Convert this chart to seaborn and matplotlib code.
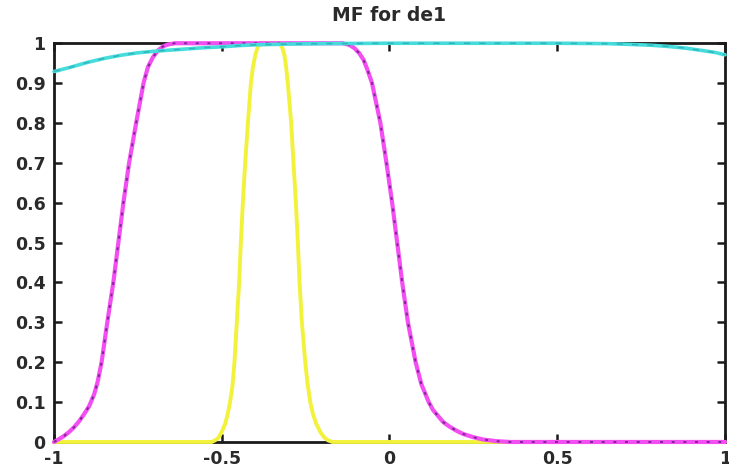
import matplotlib
matplotlib.use("Agg")
import matplotlib.pyplot as plt
import seaborn as sns
import pandas as pd

# Membership functions of input "de1", sampled along the universe [-1, 1]
mf_wide_x = [-1.00, -0.985, -0.97, -0.955, -0.94, -0.925, -0.91, -0.895, -0.88,
             -0.87, -0.858, -0.841, -0.823, -0.808, -0.793, -0.776, -0.755,
             -0.733, -0.72, -0.705, -0.69, -0.675, -0.66, -0.64, -0.40,
             -0.14, -0.12, -0.105, -0.09, -0.077, -0.065, -0.052, -0.027,
             -0.009, 0.008, 0.023, 0.038, 0.055, 0.078, 0.095, 0.117, 0.13,
             0.145, 0.16, 0.18, 0.20, 0.22, 0.25, 0.28, 0.32, 0.36, 1.00]
mf_wide_y = [0.00, 0.007, 0.015, 0.025, 0.037, 0.052, 0.07, 0.09, 0.12,
             0.15, 0.20, 0.30, 0.40, 0.50, 0.60, 0.70, 0.80,
             0.90, 0.94, 0.965, 0.982, 0.992, 0.997, 1.00, 1.00,
             1.00, 0.996, 0.988, 0.975, 0.958, 0.932, 0.90, 0.80,
             0.70, 0.60, 0.50, 0.40, 0.30, 0.20, 0.145, 0.10, 0.08,
             0.065, 0.05, 0.038, 0.028, 0.02, 0.012, 0.006, 0.002, 0.00, 0.00]

mf_narrow_x = [-1.00, -0.53, -0.52, -0.51, -0.50, -0.49, -0.482, -0.475, -0.468,
               -0.462, -0.455, -0.448, -0.443, -0.437, -0.430, -0.422, -0.413,
               -0.407, -0.400, -0.393, -0.385, -0.328, -0.320, -0.313, -0.308,
               -0.303, -0.293, -0.286, -0.279, -0.273, -0.268, -0.261, -0.251,
               -0.244, -0.236, -0.228, -0.218, -0.206, -0.195, -0.183, -0.17,
               1.00]
mf_narrow_y = [0.00, 0.00, 0.004, 0.01, 0.025, 0.045, 0.07, 0.10, 0.14,
               0.20, 0.30, 0.40, 0.50, 0.60, 0.70, 0.80, 0.90,
               0.94, 0.97, 0.99, 1.00, 1.00, 0.99, 0.97, 0.94,
               0.90, 0.80, 0.70, 0.60, 0.50, 0.40, 0.30, 0.20,
               0.145, 0.10, 0.07, 0.045, 0.025, 0.012, 0.004, 0.00,
               0.00]

mf_flat_x = [-1.00, -0.95, -0.90, -0.85, -0.80, -0.75, -0.70, -0.65, -0.60,
             -0.55, -0.50, -0.45, -0.40, -0.30, -0.20, 0.00, 0.50, 0.65,
             0.72, 0.78, 0.83, 0.88, 0.93, 0.97, 1.00]
mf_flat_y = [0.929, 0.940, 0.952, 0.962, 0.970, 0.976, 0.980, 0.983, 0.986,
             0.989, 0.991, 0.994, 0.996, 0.998, 0.999, 1.00, 1.00, 0.999,
             0.997, 0.995, 0.992, 0.988, 0.982, 0.977, 0.971]

x_ticks = [-1, -0.5, 0, 0.5, 1]
x_tick_labels = ["-1", "-0.5", "0", "0.5", "1"]
y_ticks = [0, 0.1, 0.2, 0.3, 0.4, 0.5, 0.6, 0.7, 0.8, 0.9, 1]
y_tick_labels = ["0", "0.1", "0.2", "0.3", "0.4", "0.5", "0.6", "0.7", "0.8", "0.9", "1"]
title_text = "MF for de1"

sns.set_theme(style="white")
plt.rcParams["font.family"] = ["DejaVu Sans"]

fig = plt.figure(figsize=(7.29, 4.68), dpi=100)
ax = fig.add_axes([0.074, 0.0556, 0.9205, 0.852])

df_narrow = pd.DataFrame({"x": mf_narrow_x, "mu": mf_narrow_y})
df_wide = pd.DataFrame({"x": mf_wide_x, "mu": mf_wide_y})
df_flat = pd.DataFrame({"x": mf_flat_x, "mu": mf_flat_y})

common = dict(x="x", y="mu", ax=ax, estimator=None, sort=False, legend=False)

sns.lineplot(data=df_narrow, color="#f2f23c", linewidth=2.8, **common)
sns.lineplot(data=df_wide, color="#f24ef2", linewidth=3.0, **common)
sns.lineplot(data=df_wide, color="#7d2591", linewidth=1.4, **common)
sns.lineplot(data=df_flat, color="#46dcdc", linewidth=2.6, **common)
sns.lineplot(data=df_flat, color="#30b4bc", linewidth=1.1, **common)

lines = ax.get_lines()
lines[2].set_linestyle((0, (1.5, 4.5)))
lines[4].set_linestyle((0, (4, 6)))
for ln in lines:
    ln.set_clip_on(False)
    ln.set_zorder(3)
    ln.set_solid_joinstyle("round")
    ln.set_solid_capstyle("round")

ax.set_xlim(-1, 1)
ax.set_ylim(0, 1)
ax.set_xticks(x_ticks)
ax.set_xticklabels(x_tick_labels)
ax.set_yticks(y_ticks)
ax.set_yticklabels(y_tick_labels)
ax.set_xlabel("")
ax.set_ylabel("")

for side in ["left", "right", "top", "bottom"]:
    ax.spines[side].set_visible(True)
    ax.spines[side].set_color("#1a1a1a")
    ax.spines[side].set_linewidth(2.0)
    ax.spines[side].set_zorder(2)

ax.tick_params(axis="both", which="both", direction="in", length=6, width=1.8,
               color="#1a1a1a", top=True, right=True, bottom=True, left=True,
               labelsize=12.5, labelcolor="#2a2a2a", pad=6)
for lbl in ax.get_xticklabels() + ax.get_yticklabels():
    lbl.set_fontweight("bold")

ax.set_title(title_text, fontsize=13.5, fontweight="bold", color="#2a2a2a", pad=16)

fig.savefig("out.png", dpi=100)
